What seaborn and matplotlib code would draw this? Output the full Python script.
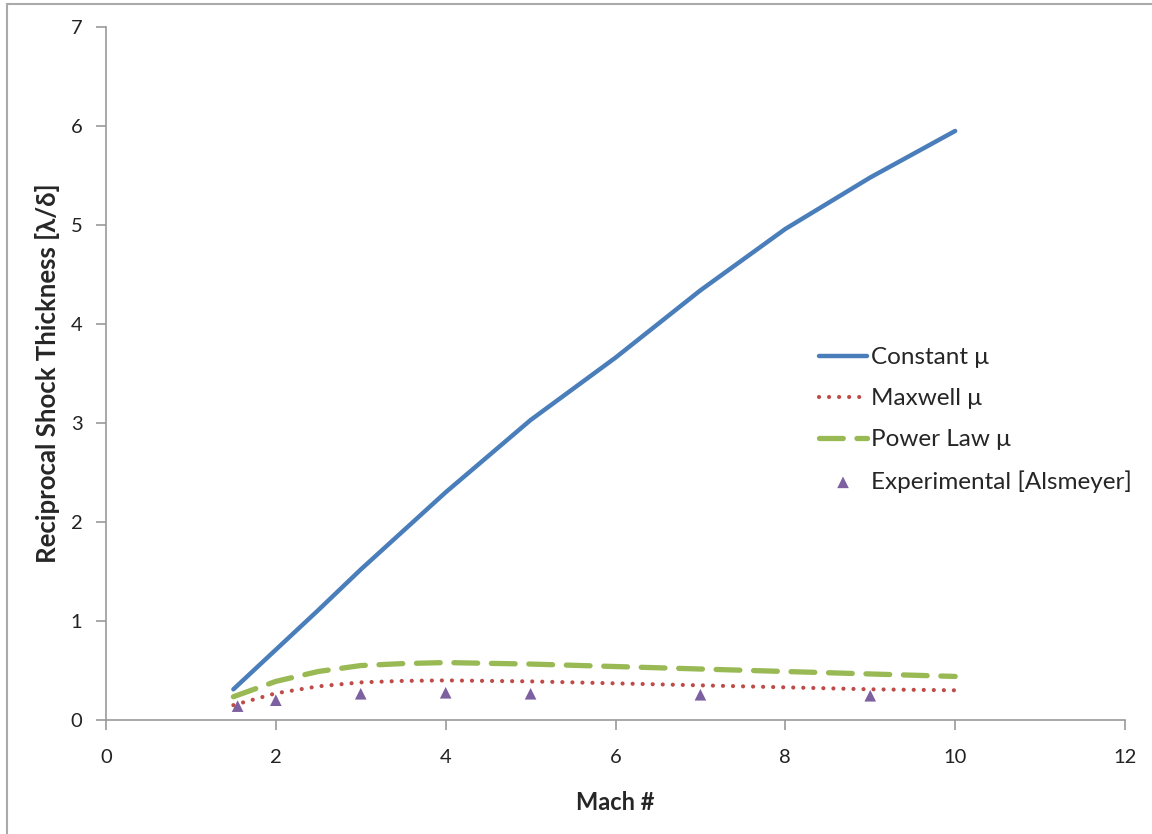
import matplotlib
matplotlib.use("Agg")
import matplotlib.pyplot as plt
import seaborn as sns
import pandas as pd
from matplotlib.patches import Rectangle

# data
mach = [1.5, 2, 2.5, 3, 3.5, 4, 5, 6, 7, 8, 9, 10]
constant_mu = [0.31, 0.71, 1.11, 1.52, 1.91, 2.30, 3.03, 3.66, 4.34, 4.96, 5.48, 5.95]
maxwell_mu = [0.15, 0.27, 0.34, 0.38, 0.395, 0.40, 0.39, 0.37, 0.35, 0.33, 0.31, 0.30]
power_mu = [0.235, 0.39, 0.49, 0.55, 0.57, 0.58, 0.565, 0.54, 0.515, 0.49, 0.465, 0.44]

exp_mach = [1.55, 2, 3, 4, 5, 7, 9]
exp_val = [0.14, 0.20, 0.265, 0.275, 0.265, 0.255, 0.245]

blue = "#4A7EBB"
red = "#BE4B48"
green = "#98B954"
purple = "#7D60A0"

sns.set_style("white")
plt.rcParams["font.family"] = ["Lato", "DejaVu Sans"]

fig = plt.figure(figsize=(11.52, 8.34), dpi=100)
ax = fig.add_axes([106 / 1152, 1 - 720 / 834, (1125 - 106) / 1152, (720 - 27) / 834])

df = pd.DataFrame({"mach": mach, "const": constant_mu, "maxw": maxwell_mu, "pow": power_mu})

sns.lineplot(data=df, x="mach", y="const", ax=ax, color=blue, lw=3.2,
             label="Constant \u03bc", solid_capstyle="round")
sns.lineplot(data=df, x="mach", y="maxw", ax=ax, color=red, lw=3.0,
             label="Maxwell \u03bc", dashes=False)
sns.lineplot(data=df, x="mach", y="pow", ax=ax, color=green, lw=3.8,
             label="Power Law \u03bc", dashes=False)
sns.scatterplot(x=exp_mach, y=exp_val, ax=ax, color=purple, marker="^", s=70,
                edgecolor="none", label="Experimental [Alsmeyer]", zorder=5)

lines = ax.get_lines()
lines[1].set_linestyle((0, (0.01, 2.4)))
lines[1].set_dash_capstyle("round")
lines[2].set_linestyle((0, (4.5, 2.6)))
lines[2].set_dash_capstyle("round")

ax.set_xlim(0, 12)
ax.set_ylim(0, 7)
ax.set_xticks(range(0, 13, 2))
ax.set_yticks(range(0, 8))

for s in ["top", "right"]:
    ax.spines[s].set_visible(False)
for s in ["left", "bottom"]:
    ax.spines[s].set_color("#999999")
    ax.spines[s].set_linewidth(1.2)
ax.tick_params(axis="both", direction="out", length=7, width=1.2, color="#999999",
               labelsize=14.5, labelcolor="#222222", left=True, bottom=True)
ax.tick_params(axis="x", pad=14)
ax.tick_params(axis="y", pad=10)

ax.set_xlabel("Mach #", fontsize=17, fontweight="bold", labelpad=18)
ax.set_ylabel("Reciprocal Shock Thickness [\u03bb/\u03b4]", fontsize=18.5, fontweight="bold", labelpad=8)

leg = ax.legend(loc="center left", bbox_to_anchor=(809 / 1152, 1 - 420 / 834),
                bbox_transform=fig.transFigure, frameon=False, fontsize=17.5,
                handlelength=2.0, handletextpad=0.15, labelspacing=0.82, borderaxespad=0)

# outer chart frame
fig.patches.append(Rectangle((7 / 1152, -0.05), 1.2, 1 - 4 / 834 + 0.05, transform=fig.transFigure,
                             fill=False, edgecolor="#aaaaaa", lw=1.5))

fig.savefig("out.png", dpi=100)
